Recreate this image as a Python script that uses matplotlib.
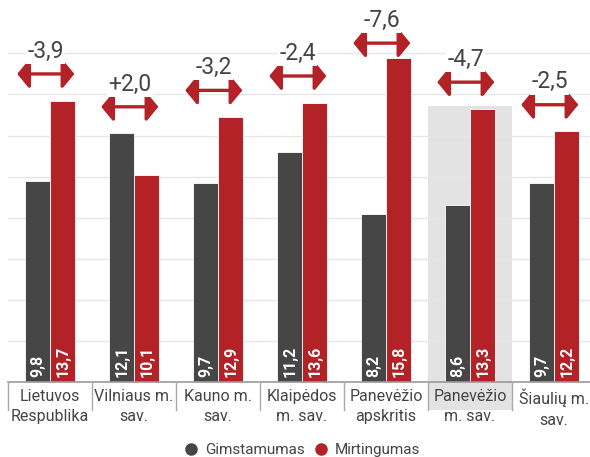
import matplotlib.pyplot as plt
import numpy as np
from matplotlib.patches import Rectangle
from matplotlib.lines import Line2D

plt.rcParams['font.family'] = ['Roboto', 'DejaVu Sans']

regions = ['Lietuvos\nRespublika', 'Vilniaus m.\nsav.', 'Kauno m.\nsav.',
           'Klaipėdos\nm. sav.', 'Panevėžio\napskritis', 'Panevėžio\nm. sav.',
           'Šiaulių m.\nsav.']
gimstamumas = [9.8, 12.1, 9.7, 11.2, 8.2, 8.6, 9.7]
mirtingumas = [13.7, 10.1, 12.9, 13.6, 15.8, 13.3, 12.2]
highlight = 5

GRAY = '#464646'
RED = '#b22226'
TXT = '#444444'

fig = plt.figure(figsize=(5.9, 4.57), dpi=100)
ax = fig.add_axes([8 / 590, 1 - 382 / 457, 588 / 590, 382 / 457])

x = np.arange(len(regions))
w = 0.3

# highlighted category background
hl_top = max(gimstamumas[highlight], mirtingumas[highlight]) + 0.15
ax.add_patch(Rectangle((highlight - 0.5, -1.35), 1, hl_top + 1.35,
                       facecolor='#e3e3e3', edgecolor='none', zorder=0, clip_on=False))

ax.bar(x - w / 2, gimstamumas, w, color=GRAY, edgecolor='white', linewidth=0.6, zorder=2)
ax.bar(x + w / 2, mirtingumas, w, color=RED, edgecolor='white', linewidth=0.6, zorder=2)

for i in range(len(regions)):
    for off, v in ((-w / 2, gimstamumas[i]), (w / 2, mirtingumas[i])):
        ax.text(i + off + 0.01, 0.22, f'{v:.1f}'.replace('.', ','), rotation=90,
                ha='center', va='bottom', color='white', fontsize=11.5,
                fontweight='bold', zorder=3)

    diff = gimstamumas[i] - mirtingumas[i]
    level = min(max(gimstamumas[i], mirtingumas[i]) + 1.3, 16.5)
    cx = i - 0.05
    ax.annotate('', xy=(cx - 0.34, level), xytext=(cx + 0.34, level),
                arrowprops=dict(arrowstyle='<|-|>,head_length=0.45,head_width=0.55',
                                color=RED, lw=2.4, shrinkA=0, shrinkB=0,
                                mutation_scale=16), zorder=4)
    label = f'{diff:+.1f}'.replace('.', ',')
    ax.text(cx, level + 0.55, label, ha='center', va='bottom', fontsize=16.5,
            color=TXT, zorder=4,
            bbox=dict(facecolor='white', edgecolor='none', pad=1))

ax.set_xlim(-0.5, len(regions) - 0.5)
ax.set_ylim(0, 18.6)
ax.set_yticks(np.arange(2, 17, 2))
ax.yaxis.grid(True, color='#e6e6e6', linewidth=1, zorder=1)
ax.set_axisbelow(True)
ax.tick_params(axis='y', length=0, labelleft=False)
for s in ['top', 'right', 'left']:
    ax.spines[s].set_visible(False)
ax.spines['bottom'].set_color('#999999')
ax.spines['bottom'].set_linewidth(1.2)

ax.set_xticks(x)
ax.set_xticklabels(regions, fontsize=11.5, color=TXT, linespacing=1.45)
ax.tick_params(axis='x', length=0, pad=5)

# category separators below the axis
for b in np.arange(len(regions) + 1) - 0.5:
    ax.plot([b, b], [0, -1.35], color='#aaaaaa', lw=1, clip_on=False, zorder=3)

handles = [Line2D([], [], marker='o', color=GRAY, linestyle='none', markersize=8),
           Line2D([], [], marker='o', color=RED, linestyle='none', markersize=8)]
fig.legend(handles, ['Gimstamumas', 'Mirtingumas'], loc='center',
           bbox_to_anchor=(298 / 590, 1 - 450 / 457), ncol=2, frameon=False,
           fontsize=11, handletextpad=-0.1, columnspacing=0.1, labelcolor=TXT)

fig.savefig('out.png', dpi=100)
